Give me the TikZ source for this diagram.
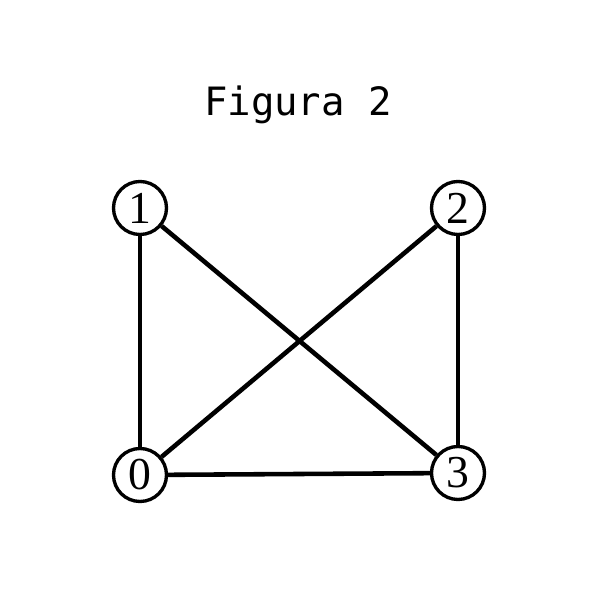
\documentclass[tikz,border=0pt]{standalone}
\usepackage{fontspec}
\setmainfont{Liberation Serif}
\setmonofont{DejaVu Sans Mono}
\tikzset{
  vertex/.style={draw,circle,line width=0.95pt,minimum size=0.53cm,inner sep=0pt,font=\fontsize{13}{13}\selectfont},
  edge/.style={line width=1.3pt}
}
\begin{document}
\begin{tikzpicture}
                \useasboundingbox (0,0) rectangle (6,6);
                \node[anchor=base,font=\ttfamily\fontsize{11.1}{11.1}\selectfont] (title) at (2.98,4.84) {Figura 2};
                \node[vertex] (v1) at (1.40,3.92) {1};
                \node[vertex] (v2) at (4.58,3.92) {2};
                \node[vertex] (v0) at (1.40,1.25) {0};
                \node[vertex] (v3) at (4.58,1.27) {3};
                \draw[edge] (v1) -- (v0);
                \draw[edge] (v1) -- (v3);
                \draw[edge] (v2) -- (v0);
                \draw[edge] (v2) -- (v3);
                \draw[edge] (v0) -- (v3);
            \end{tikzpicture}
\end{document}
